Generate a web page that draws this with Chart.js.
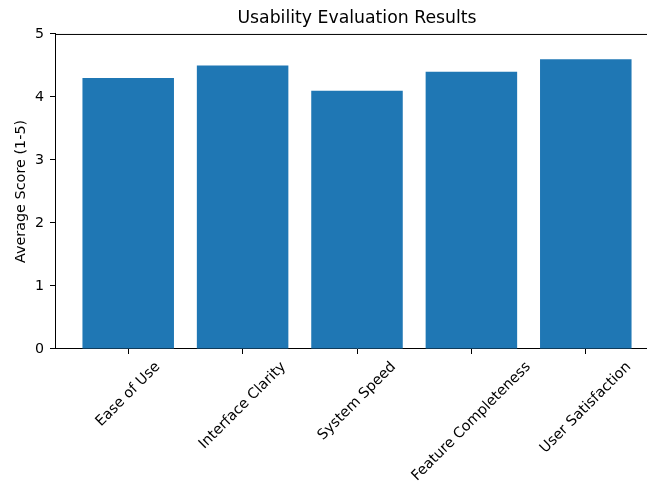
<!DOCTYPE html>
<html>
<head>
<meta charset="utf-8">
<script src="https://cdn.jsdelivr.net/npm/chart.js@4/dist/chart.umd.min.js"></script>
<style>
  html, body { margin: 0; padding: 0; background: #fff; overflow: hidden; }
  #wrap { width: 647px; height: 482px; overflow: hidden; position: relative; }
  canvas { display: block; }
</style>
</head>
<body>
<div id="wrap"><canvas id="c" width="660" height="482"></canvas></div>
<script>
const categories = ["Ease of Use", "Interface Clarity", "System Speed", "Feature Completeness", "User Satisfaction"];
const scores = [4.3, 4.5, 4.1, 4.4, 4.6];
const yTicks = [0, 1, 2, 3, 4, 5];
const chartTitle = "Usability Evaluation Results";
const yTitle = "Average Score (1-5)";

const FONT = "'DejaVu Sans', sans-serif";

const spinesAndLabels = {
  id: 'spinesAndLabels',
  afterDraw(chart) {
    const ctx = chart.ctx;
    const a = chart.chartArea;
    const xs = chart.scales.x;
    ctx.save();
    ctx.strokeStyle = '#000';
    ctx.lineWidth = 1;
    ctx.beginPath();
    ctx.moveTo(a.left, a.top + 0.5);
    ctx.lineTo(a.right, a.top + 0.5);
    ctx.moveTo(a.right - 0.5, a.top);
    ctx.lineTo(a.right - 0.5, a.bottom);
    ctx.stroke();
    // rotated x tick labels, centred on tick like matplotlib rotation=45
    ctx.font = "14.4px " + FONT;
    ctx.fillStyle = '#000';
    ctx.textAlign = 'center';
    ctx.textBaseline = 'middle';
    const y0 = a.bottom + 10;
    const h = 16;
    const s = Math.SQRT1_2;
    categories.forEach((lab, i) => {
      const tx = xs.getPixelForValue(i);
      const w = ctx.measureText(lab).width;
      const cy = y0 + (w + h) * s / 2;
      ctx.save();
      ctx.translate(tx, cy);
      ctx.rotate(-Math.PI / 4);
      ctx.fillText(lab, 0, 0);
      ctx.restore();
    });
    ctx.restore();
  }
};

new Chart(document.getElementById('c'), {
  type: 'bar',
  data: {
    datasets: [{
      data: categories.map((c, i) => ({ x: i, y: scores[i] })),
      backgroundColor: '#1f77b4',
      borderWidth: 0,
      barPercentage: 0.8,
      categoryPercentage: 1.0
    }]
  },
  options: {
    responsive: false,
    animation: false,
    devicePixelRatio: 1,
    layout: { padding: { left: 0, right: 1, top: 0, bottom: 0 } },
    plugins: {
      legend: { display: false },
      tooltip: { enabled: false },
      title: {
        display: true,
        text: chartTitle,
        fullSize: false,
        color: '#000',
        font: { family: FONT, size: 17.3, weight: 'normal', lineHeight: 1.2 },
        padding: { top: 8.5, bottom: 4.7 }
      }
    },
    scales: {
      x: {
        type: 'linear',
        min: -0.64,
        max: 4.64,
        offset: false,
        afterBuildTicks: (s) => { s.ticks = categories.map((c, i) => ({ value: i })); },
        afterFit: (s) => { s.height = 133; },
        ticks: { display: false },
        grid: { offset: false, drawOnChartArea: false, drawTicks: true, tickLength: 5, color: '#000', lineWidth: 1 },
        border: { display: true, color: '#000', width: 1 }
      },
      y: {
        type: 'linear',
        min: 0,
        max: 5,
        afterBuildTicks: (s) => { s.ticks = yTicks.map(v => ({ value: v })); },
        afterFit: (s) => { s.width = 55; },
        ticks: { color: '#000', padding: 6, font: { family: FONT, size: 14.2 } },
        grid: { drawOnChartArea: false, drawTicks: true, tickLength: 5, color: '#000', lineWidth: 1 },
        border: { display: true, color: '#000', width: 1 },
        title: {
          display: true,
          text: yTitle,
          color: '#000',
          font: { family: FONT, size: 14.4 },
          padding: { top: 13, bottom: 0 }
        }
      }
    }
  },
  plugins: [spinesAndLabels]
});
</script>
</body>
</html>
